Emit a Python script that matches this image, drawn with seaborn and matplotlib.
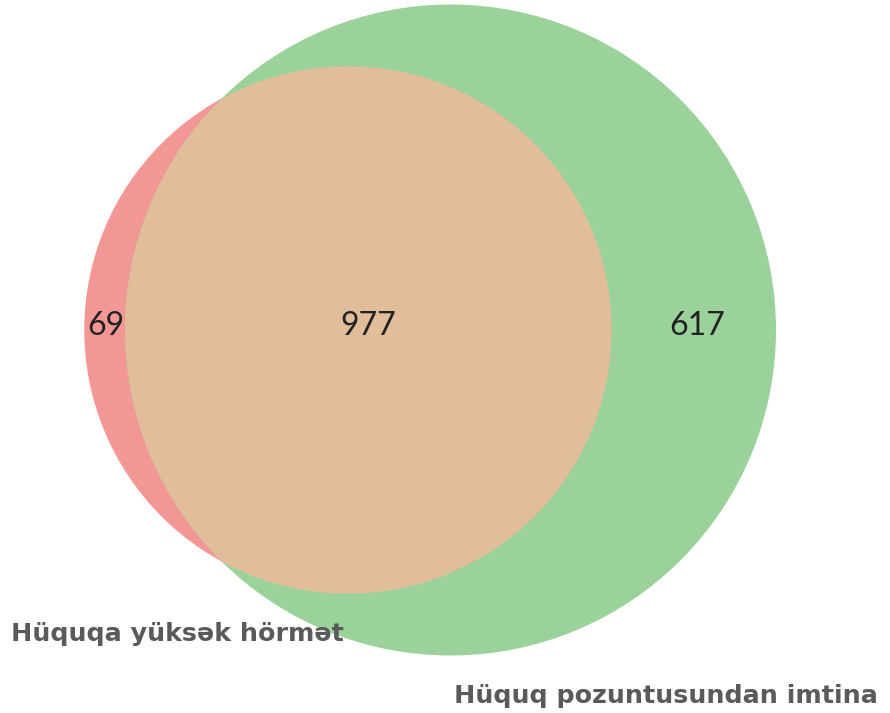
import numpy as np
import matplotlib
matplotlib.use("Agg")
import matplotlib.pyplot as plt
from matplotlib.patches import Circle
import seaborn as sns

# Data
set_names = ["Hüquqa yüksək hörmət", "Hüquq pozuntusundan imtina"]
only_a = 69
only_b = 617
both = 977
region_colors = ["#F39796", "#9BD19B", "#E1BD9A"]

sns.set_theme(style="white")
plt.rcParams["font.family"] = ["Lato", "DejaVu Sans"]

size_a = only_a + both
size_b = only_b + both
ra = np.sqrt(size_a / np.pi)
rb = np.sqrt(size_b / np.pi)


def overlap_area(d, r1, r2):
    if d >= r1 + r2:
        return 0.0
    if d <= abs(r1 - r2):
        return np.pi * min(r1, r2) ** 2
    a1 = r1 ** 2 * np.arccos((d ** 2 + r1 ** 2 - r2 ** 2) / (2 * d * r1))
    a2 = r2 ** 2 * np.arccos((d ** 2 + r2 ** 2 - r1 ** 2) / (2 * d * r2))
    a3 = 0.5 * np.sqrt((-d + r1 + r2) * (d + r1 - r2) * (d - r1 + r2) * (d + r1 + r2))
    return a1 + a2 - a3


lo, hi = abs(ra - rb), ra + rb
for _ in range(200):
    mid = (lo + hi) / 2
    if overlap_area(mid, ra, rb) > both:
        lo = mid
    else:
        hi = mid
d = (lo + hi) / 2

# layout in pixel space
scale = 325.5 / rb
cy = 330
cbx = 450.5
cax = cbx - d * scale
Ra, Rb = ra * scale, rb * scale

fig = plt.figure(figsize=(8.9, 7.13), dpi=100)
ax = fig.add_axes([0, 0, 1, 1])
ax.set_xlim(0, 890)
ax.set_ylim(713, 0)
ax.set_aspect("equal")
ax.axis("off")

circ_a = Circle((cax, cy), Ra, facecolor=region_colors[0], edgecolor="none", zorder=1)
circ_b = Circle((cbx, cy), Rb, facecolor=region_colors[1], edgecolor="none", zorder=2)
ax.add_patch(circ_a)
ax.add_patch(circ_b)
inter = Circle((cax, cy), Ra, facecolor=region_colors[2], edgecolor="none", zorder=3)
ax.add_patch(inter)
inter.set_clip_path(circ_b)

num_kw = dict(ha="center", va="center", fontsize=23, color="#222222", zorder=5)
left_a = cax - Ra
left_b = cbx - Rb
right_a = cax + Ra
right_b = cbx + Rb
ax.text((left_a + left_b) / 2 + 1, cy - 4, str(only_a), **num_kw)
ax.text((left_b + right_a) / 2, cy - 4, str(both), **num_kw)
ax.text((right_a + right_b) / 2 + 3, cy - 4, str(only_b), **num_kw)

lab_kw = dict(fontsize=18.3, color="#5a5a5a", fontweight="bold",
              family=["DejaVu Sans"], zorder=6)
ax.text(11, 641, set_names[0], ha="left", va="baseline", **lab_kw)
ax.text(454, 703, set_names[1], ha="left", va="baseline", **lab_kw)

fig.savefig("out.png", dpi=100)
